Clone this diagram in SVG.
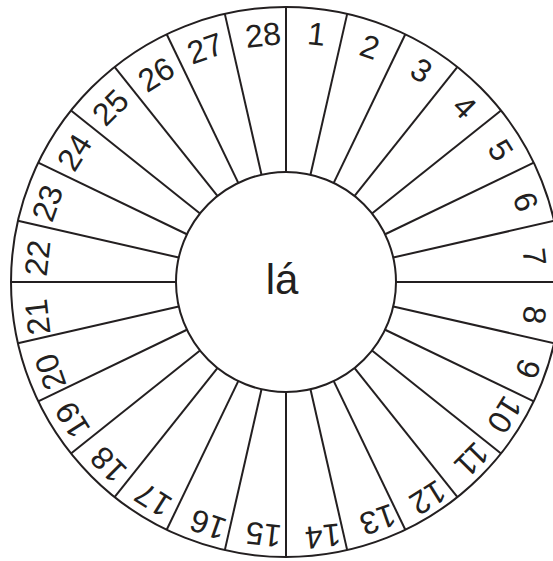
<svg xmlns="http://www.w3.org/2000/svg" width="553" height="561" viewBox="0 0 553 561">
<style>
.c{fill:none;stroke:#231f20;stroke-width:2}
.n{font-family:"Liberation Sans",Arial,sans-serif;font-size:32px;fill:#231f20;text-anchor:middle}
.m{font-family:"Liberation Sans",Arial,sans-serif;font-size:42px;fill:#231f20;text-anchor:middle}
</style>
<rect width="553" height="561" fill="#fff"/>
<g id="wheel">
<circle class="c" cx="286" cy="282" r="275"/>
</g>
<g id="connectors">
<line class="c" x1="286" y1="172" x2="286" y2="7" transform="rotate(0 286 282)"/>
<line class="c" x1="286" y1="172" x2="286" y2="7" transform="rotate(12.857 286 282)"/>
<line class="c" x1="286" y1="172" x2="286" y2="7" transform="rotate(25.714 286 282)"/>
<line class="c" x1="286" y1="172" x2="286" y2="7" transform="rotate(38.571 286 282)"/>
<line class="c" x1="286" y1="172" x2="286" y2="7" transform="rotate(51.429 286 282)"/>
<line class="c" x1="286" y1="172" x2="286" y2="7" transform="rotate(64.286 286 282)"/>
<line class="c" x1="286" y1="172" x2="286" y2="7" transform="rotate(77.143 286 282)"/>
<line class="c" x1="286" y1="172" x2="286" y2="7" transform="rotate(90 286 282)"/>
<line class="c" x1="286" y1="172" x2="286" y2="7" transform="rotate(102.857 286 282)"/>
<line class="c" x1="286" y1="172" x2="286" y2="7" transform="rotate(115.714 286 282)"/>
<line class="c" x1="286" y1="172" x2="286" y2="7" transform="rotate(128.571 286 282)"/>
<line class="c" x1="286" y1="172" x2="286" y2="7" transform="rotate(141.429 286 282)"/>
<line class="c" x1="286" y1="172" x2="286" y2="7" transform="rotate(154.286 286 282)"/>
<line class="c" x1="286" y1="172" x2="286" y2="7" transform="rotate(167.143 286 282)"/>
<line class="c" x1="286" y1="172" x2="286" y2="7" transform="rotate(180 286 282)"/>
<line class="c" x1="286" y1="172" x2="286" y2="7" transform="rotate(192.857 286 282)"/>
<line class="c" x1="286" y1="172" x2="286" y2="7" transform="rotate(205.714 286 282)"/>
<line class="c" x1="286" y1="172" x2="286" y2="7" transform="rotate(218.571 286 282)"/>
<line class="c" x1="286" y1="172" x2="286" y2="7" transform="rotate(231.429 286 282)"/>
<line class="c" x1="286" y1="172" x2="286" y2="7" transform="rotate(244.286 286 282)"/>
<line class="c" x1="286" y1="172" x2="286" y2="7" transform="rotate(257.143 286 282)"/>
<line class="c" x1="286" y1="172" x2="286" y2="7" transform="rotate(270 286 282)"/>
<line class="c" x1="286" y1="172" x2="286" y2="7" transform="rotate(282.857 286 282)"/>
<line class="c" x1="286" y1="172" x2="286" y2="7" transform="rotate(295.714 286 282)"/>
<line class="c" x1="286" y1="172" x2="286" y2="7" transform="rotate(308.571 286 282)"/>
<line class="c" x1="286" y1="172" x2="286" y2="7" transform="rotate(321.429 286 282)"/>
<line class="c" x1="286" y1="172" x2="286" y2="7" transform="rotate(334.286 286 282)"/>
<line class="c" x1="286" y1="172" x2="286" y2="7" transform="rotate(347.143 286 282)"/>
</g>
<g id="center">
<circle class="c" cx="286" cy="282" r="110" fill="#fff"/>
<text class="m" x="282" y="294">lá</text>
</g>
<g id="labels">
<text class="n" y="11.5" transform="translate(316.5 33.5) rotate(6.429)">1</text>
<text class="n" y="11.5" transform="translate(370 46.7) rotate(19.286)">2</text>
<text class="n" y="11.5" transform="translate(421.7 70) rotate(32.143)">3</text>
<text class="n" y="11.5" transform="translate(465 106.7) rotate(45)">4</text>
<text class="n" y="11.5" transform="translate(501 150) rotate(57.857)">5</text>
<text class="n" y="11.5" transform="translate(526 201.7) rotate(70.714)">6</text>
<text class="n" y="11.5" transform="translate(535 256.7) rotate(83.571)">7</text>
<text class="n" y="11.5" transform="translate(535 315) rotate(96.429)">8</text>
<text class="n" y="11.5" transform="translate(528.5 369) rotate(109.286)">9</text>
<text class="n" y="11.5" transform="translate(505 415) rotate(122.143)">10</text>
<text class="n" y="11.5" transform="translate(472 460) rotate(135)">11</text>
<text class="n" y="11.5" transform="translate(428 498) rotate(147.857)">12</text>
<text class="n" y="11.5" transform="translate(378 520) rotate(160.714)">13</text>
<text class="n" y="11.5" transform="translate(323 536.7) rotate(173.571)">14</text>
<text class="n" y="11.5" transform="translate(263.5 535) rotate(186.429)">15</text>
<text class="n" y="11.5" transform="translate(208 525) rotate(199.286)">16</text>
<text class="n" y="11.5" transform="translate(153 500) rotate(212.143)">17</text>
<text class="n" y="11.5" transform="translate(108 465) rotate(225)">18</text>
<text class="n" y="11.5" transform="translate(72 420) rotate(237.857)">19</text>
<text class="n" y="11.5" transform="translate(50 372) rotate(250.714)">20</text>
<text class="n" y="11.5" transform="translate(37 317) rotate(263.571)">21</text>
<text class="n" y="11.5" transform="translate(37 258) rotate(276.429)">22</text>
<text class="n" y="11.5" transform="translate(47 203) rotate(289.286)">23</text>
<text class="n" y="11.5" transform="translate(74 152) rotate(302.143)">24</text>
<text class="n" y="11.5" transform="translate(110 107) rotate(315)">25</text>
<text class="n" y="11.5" transform="translate(156 74) rotate(327.857)">26</text>
<text class="n" y="11.5" transform="translate(205 48) rotate(340.714)">27</text>
<text class="n" y="11.5" transform="translate(263 34.5) rotate(353.571)">28</text>
</g>
</svg>
